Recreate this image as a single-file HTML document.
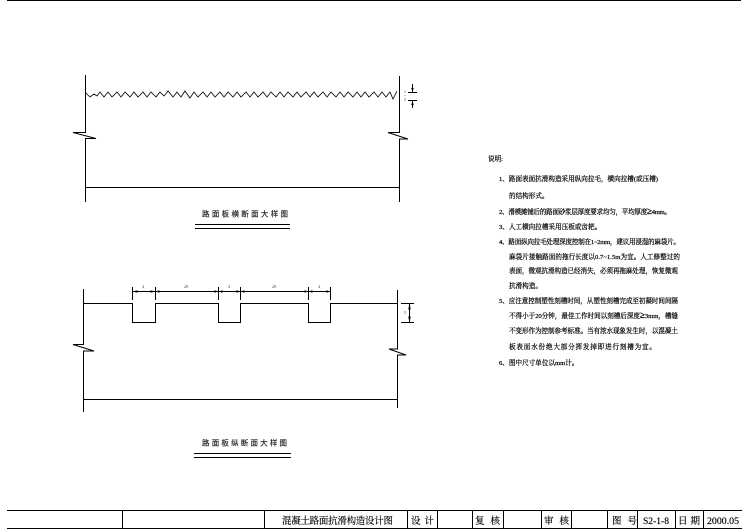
<!DOCTYPE html>
<html>
<head>
<meta charset="utf-8">
<style>
html,body{margin:0;padding:0;background:#fff;width:749px;height:530px;overflow:hidden}
svg{display:block}
text{font-family:"Liberation Serif","Noto Serif CJK SC",serif;fill:#000}
.n{font-size:6.6px;stroke:#000;stroke-width:.2px;font-family:"Liberation Serif","Noto Sans CJK SC",sans-serif}
.t{font-size:7.5px;font-family:"Liberation Sans","Noto Sans CJK SC",sans-serif;stroke:#222;stroke-width:.15px;fill:#222}
.b{font-size:9.5px;stroke:#000;stroke-width:.15px}
.d{font-size:4px;fill:#333}
.g{font-size:9px;font-weight:700}
</style>
</head>
<body>
<svg width="749" height="530" viewBox="0 0 749 530" xmlns="http://www.w3.org/2000/svg">
<g fill="none" stroke="#000" stroke-width="1" shape-rendering="crispEdges">
<path d="M7 .5H741" stroke-width="1.2"/>
<!-- title block -->
<path d="M7 510.5H742M7 528.5H742" />
<path d="M122.5 510V529M264.5 510V529M407.5 510V529M437.5 510V529M472.5 510V529M503.5 510V529M541.5 510V529M571.5 510V529M607.5 510V529M637.5 510V529M675.5 510V529M703.5 510V529"/>
<!-- diagram 1 -->
<path d="M85.5 187.5H399"/>
<path d="M195 224.5H290" stroke-width="1.4"/>
<path d="M195 228.5H290"/>
<!-- diagram 2 -->
<path d="M83.5 399.5H397"/>
<path d="M83.5 303.5H132.5V322.5H155.5V303.5H218.5V322.5H240.5V303.5H308.5V322.5H330.5V303.5H397"/>
<path d="M132 291.5H330"/>
<path d="M132.5 287V300M155.5 287V300M218.5 287V300M240.500 287V300M308.500 287V300M330.500 287V300"/>
<path d="M401 303.5H414M401 322.5H414M409.5 304V322"/>
<path d="M194 453.5H291" stroke-width="1.4"/>
<path d="M194 457.5H291"/>
<path d="M408 92.5H417M408 100.5H417M412.5 84V92M412.5 100V108"/>
</g>
<g fill="none" stroke="#000" stroke-width="1">
<path d="M85.5 75V132.5H73L96 138.5H85.5V202"/>
<path d="M399.5 76V132.5H388L408 139H399.5V202"/>
<path d="M83.5 289V344.5H73L94 351H83.5V412"/>
<path d="M397.5 290V349H389L406 355H397.5V408"/>
</g>
<path fill="none" stroke="#000" stroke-width=".8" d="M86 93l4 4 4-3 3 2 3-4 4 5 4-5 4 5 5-5 4 5 4-5 5 5 4-5 4 5 5-5 4 5 4-5 5 5 4-5 4 4 4-5 5 6 4-5 4 5 4-6 5 7 4-6 4 5 5-5 4 5 4-5 4 5 5-5 4 5 4-5 5 5 4-5 4 5 5-5 4 5 4-5 4 5 5-5 4 5 4-5 5 5 4-5 4 5 4-5 5 5 4-5 4 5 5-5 4 5 4-5 4 5 5-5 4 5 4-5 5 5 4-5 4 5 4-5 5 5 4-5 4 5 4-5 4 5 5-5 4 5 4-5 4 5 4-5 3 7 4-8"/>
<g fill="#000">
<path d="M132.500 291.500l5 -1.300v2.600zM155.500 291.500l-5 -1.300v2.600zM155.500 291.500l4 -1.300v2.600zM218.500 291.500l-4 -1.300v2.600zM218.500 291.500l4 -1.300v2.600zM240.500 291.500l-4 -1.300v2.600zM240.500 291.500l4 -1.300v2.600zM308.500 291.500l-4 -1.300v2.600zM308.500 291.500l4 -1.300v2.600zM330.500 291.500l-4 -1.300v2.600z"/>
<path d="M409.500 303.500l-1.300 6h2.600zM409.500 322.500l-1.300 -6h2.600z"/>
<path d="M412.500 92l-1.300 -4h2.600zM412.500 101l-1.300 4h2.600z"/>
</g>
<g class="d" text-anchor="middle">
<text x="143" y="288" class="d">4</text>
<text x="186" y="288" class="d">20</text>
<text x="229" y="288" class="d">4</text>
<text x="274" y="288" class="d">20</text>
<text x="319" y="288" class="d">4</text>
<text x="405" y="314" class="d">5</text>
<text x="405" y="93" class="d">1</text>
<text x="405" y="97" class="d">~</text>
<text x="405" y="101" class="d">2</text>
</g>
<text class="t" x="202" y="216.500" textLength="86" lengthAdjust="spacing">路面板横断面大样图</text>
<text class="t" x="202" y="445.500" textLength="85" lengthAdjust="spacing">路面板纵断面大样图</text>
<g class="n">
<text x="488" y="161">说明:</text>
<text x="499" y="181" textLength="159">1、路面表面抗滑构造采用纵向拉毛，横向拉槽(或压槽)</text>
<text x="509" y="198">的结构形式。</text>
<text x="499" y="214" textLength="172">2、滑模摊铺后的路面砂浆层厚度要求均匀，平均厚度<tspan class="g">≥</tspan>4mm。</text>
<text x="499" y="229">3、人工横向拉槽采用压板或齿耙。</text>
<text x="499" y="244" textLength="181">4、路面纵向拉毛处理深度控制在1~2mm，建议用浸湿的麻袋片。</text>
<text x="509" y="259" textLength="171">麻袋片接触路面的拖行长度以0.7~1.5m为宜。人工修整过的</text>
<text x="509" y="273" textLength="169">表面，微观抗滑构造已经消失，必须再拖麻处理，恢复微观</text>
<text x="509" y="288">抗滑构造。</text>
<text x="499" y="303" textLength="179">5、应注意控制塑性刻槽时间，从塑性刻槽完成至初凝时间间隔</text>
<text x="509" y="318" textLength="169">不得小于20分钟，最佳工作时间以刻槽后深度<tspan class="g">≥</tspan>3mm，槽缝</text>
<text x="509" y="333" textLength="169">不变形作为控制参考标准。当有浓水现象发生时，以混凝土</text>
<text x="509" y="349" textLength="147">板表面水份绝大部分挥发掉即进行刻槽为宜。</text>
<text x="499" y="365">6、图中尺寸单位以mm计。</text>
</g>
<g class="b">
<text x="282" y="524" textLength="111">混凝土路面抗滑构造设计图</text>
<text x="411" y="524" textLength="23">设 计</text>
<text x="475" y="524" textLength="25">复 核</text>
<text x="544" y="524" textLength="25">审 核</text>
<text x="612" y="524" textLength="25">图 号</text>
<text x="643" y="524" textLength="26" lengthAdjust="spacingAndGlyphs">S2-1-8</text>
<text x="678" y="524" textLength="22">日 期</text>
<text x="707" y="524" textLength="32" lengthAdjust="spacingAndGlyphs">2000.05</text>
</g>
</svg>
</body>
</html>
